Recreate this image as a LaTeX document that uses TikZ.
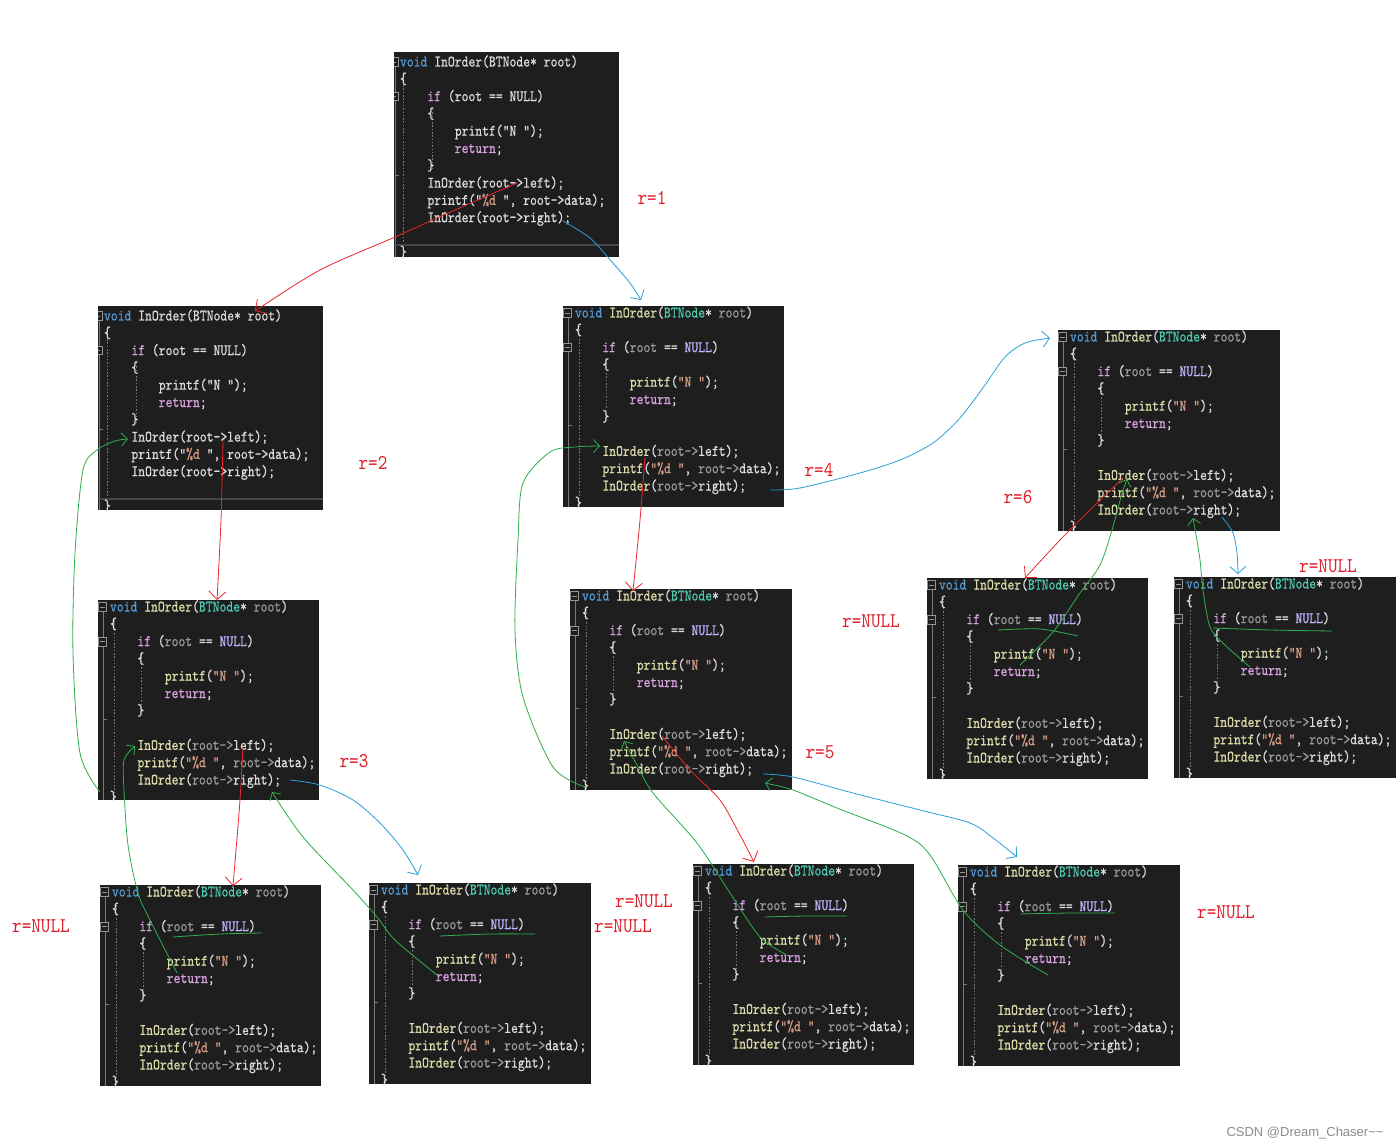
\documentclass[tikz,border=0pt]{standalone}
\usepackage{fontspec}
\usetikzlibrary{arrows.meta}
\newfontfamily\codefont{lmmono10-regular.otf}[FakeStretch=0.815,FakeBold=0.6]
\newfontfamily\labelfont{lmmono10-regular.otf}[FakeStretch=0.87]
\newfontfamily\wmfont{Liberation Sans}
\definecolor{cbg}{HTML}{1E1E1E}
\definecolor{ctx}{HTML}{DCDCDC}
\definecolor{ckw}{HTML}{569CD6}
\definecolor{cfn}{HTML}{DCDCAA}
\definecolor{cty}{HTML}{4EC9B0}
\definecolor{cpa}{HTML}{9A9A9A}
\definecolor{cct}{HTML}{D8A0DF}
\definecolor{cnu}{HTML}{BEB7FF}
\definecolor{cst}{HTML}{D69D85}
\definecolor{cgut}{HTML}{7A7A7A}
\definecolor{cline}{HTML}{464646}
\definecolor{cred}{HTML}{E8262B}
\definecolor{clab}{HTML}{E0202A}
\definecolor{cblue}{HTML}{2A9FDB}
\definecolor{cgreen}{HTML}{2FAF4A}
\newcommand\zkw[1]{\textcolor{ckw}{#1}}
\newcommand\zfn[1]{\textcolor{cfn}{#1}}
\newcommand\zty[1]{\textcolor{cty}{#1}}
\newcommand\zpa[1]{\textcolor{cpa}{#1}}
\newcommand\zct[1]{\textcolor{cct}{#1}}
\newcommand\znu[1]{\textcolor{cnu}{#1}}
\newcommand\zst[1]{\textcolor{cst}{#1}}
\tikzset{
 boxbg/.style={fill=cbg, draw=none, inner sep=0pt, outer sep=0pt},
 code/.style={anchor=base west, inner sep=0pt, outer sep=0pt, text=ctx, font=\codefont\fontsize{16}{18}\selectfont},
 gut/.style={draw=cgut, line width=0.7pt},
 guide/.style={draw=cgut, line width=0.6pt, dash pattern=on 1.5pt off 1.8pt},
 foldbox/.style={draw=cgut!80!white, fill=cbg, line width=0.7pt, minimum size=8.5pt, inner sep=0pt,
   path picture={\draw[cgut!80!white, line width=0.8pt] ([xshift=1.8pt]path picture bounding box.west) -- ([xshift=-1.8pt]path picture bounding box.east);}},
 lab/.style={text=clab, inner sep=0pt, font=\labelfont\fontsize{21}{21}\selectfont},
 redarr/.style={draw=cred, line width=0.8pt, -{Straight Barb[length=8pt,width=17pt]}},
 bluearr/.style={draw=cblue, line width=0.8pt, -{Straight Barb[length=7pt,width=16pt]}},
 greenarr/.style={draw=cgreen, line width=0.8pt, -{Straight Barb[length=6pt,width=13pt]}},
 greenmark/.style={draw=cgreen, line width=0.8pt}
}
% code box, VS style with blank line before the calls
\newcommand{\cboxB}[5]{%
\begin{scope}[shift={(#2,#3)}]
\node[boxbg, minimum width=#4pt, minimum height=#5pt, anchor=north west] (#1) at (0,0) {};
\begin{scope}
\clip (0,0) rectangle (#4,#5);
\draw[gut] (5,12) -- (5,#5);
\draw[gut] (5,119) -- (9,119);
\draw[guide] (16,20) -- (16,#5);
\draw[guide] (43,54) -- (43,113);
\node[foldbox] (#1-fa) at (4.5,7) {};
\node[foldbox] (#1-fb) at (4.5,41.6) {};
\node[code] (#1-0) at (12,11.5) {\zkw{void} \zfn{InOrder}(\zty{BTNode}* \zpa{root})};
\node[code] (#1-1) at (12,28.8) {\{};
\node[code] (#1-2) at (39.4,46.1) {\zct{if} (\zpa{root} == \znu{NULL})};
\node[code] (#1-3) at (39.4,63.4) {\{};
\node[code] (#1-4) at (66.8,80.7) {\zfn{printf}(\zst{"N "});};
\node[code] (#1-5) at (66.8,98) {\zct{return};};
\node[code] (#1-6) at (39.4,115.3) {\}};
\node[code] (#1-8) at (39.4,149.9) {\zfn{InOrder}(\zpa{root->}left);};
\node[code] (#1-9) at (39.4,167.2) {\zfn{printf}(\zst{"\%d "}, \zpa{root->}data);};
\node[code] (#1-10) at (39.4,184.5) {\zfn{InOrder}(\zpa{root->}right);};
\node[code] (#1-11) at (12,201.8) {\}};
\end{scope}
\end{scope}}
% code box, plain style (first two boxes)
\newcommand{\cboxA}[5]{%
\begin{scope}[shift={(#2,#3)}]
\node[boxbg, minimum width=#4pt, minimum height=#5pt, anchor=north west] (#1) at (0,0) {};
\begin{scope}
\clip (0,0) rectangle (#4,#5);
\draw[gut] (1,14) -- (1,#5);
\draw[gut] (1,123) -- (5,123);
\draw[guide] (9,20) -- (9,#5);
\draw[guide] (38,57) -- (38,117);
\draw[draw=cline, line width=1.3pt] (0,193) -- (#4,193);
\node[foldbox] (#1-fa) at (0,10) {};
\node[foldbox] (#1-fb) at (0,44.6) {};
\node[code] (#1-0) at (6,14.5) {\zkw{void} InOrder(BTNode* root)};
\node[code] (#1-1) at (6,31.8) {\{};
\node[code] (#1-2) at (33.4,49.1) {\zct{if} (root == NULL)};
\node[code] (#1-3) at (33.4,66.4) {\{};
\node[code] (#1-4) at (60.8,83.7) {printf("N ");};
\node[code] (#1-5) at (60.8,101) {\zct{return};};
\node[code] (#1-6) at (33.4,118.3) {\}};
\node[code] (#1-7) at (33.4,135.6) {InOrder(root->left);};
\node[code] (#1-8) at (33.4,152.9) {printf("\zst{\%d} ", root->data);};
\node[code] (#1-9) at (33.4,170.2) {InOrder(root->right);};
\node[code] (#1-11) at (6,204.8) {\}};
\end{scope}
\end{scope}}
\begin{document}
\begin{tikzpicture}[x=1pt,y=-1pt]
\fill[white] (0,0) rectangle (1400,1147);
\useasboundingbox (0,0) rectangle (1400,1147);
% boxes
\cboxA{b1}{394}{52}{225}{205}
\cboxA{b2}{98}{306}{225}{204}
\cboxB{b3}{563}{306}{221}{201}
\cboxB{b4}{98}{600}{221}{200}
\cboxB{b5}{570}{589}{222}{201}
\cboxB{b6}{1058}{330}{222}{201}
\cboxB{b7}{927}{578}{221}{201}
\cboxB{b8}{1174}{577}{222}{201}
\cboxB{b9}{100}{885}{221}{201}
\cboxB{b10}{369}{883}{222}{201}
\cboxB{b11}{693}{864}{221}{201}
\cboxB{b12}{958}{865}{222}{201}
% connector end points
\coordinate (r1s) at (517,183); \coordinate (r1e) at (255,311);
\coordinate (r2s) at (223,440); \coordinate (r2e) at (217,600);
\coordinate (r3s) at (243,747); \coordinate (r3e) at (233,886);
\coordinate (r4s) at (645,457); \coordinate (r4e) at (633,591);
\coordinate (r5s) at (662,736); \coordinate (r5e) at (754,862);
\coordinate (r6s) at (1123,478); \coordinate (r6e) at (1025,578);
\coordinate (u1s) at (563,221); \coordinate (u1e) at (641,300);
\coordinate (u2s) at (770,490); \coordinate (u2e) at (1050,338);
\coordinate (u3s) at (290,780); \coordinate (u3e) at (418,875);
\coordinate (u4s) at (763,774); \coordinate (u4e) at (1017,857);
\coordinate (u5s) at (1222,517); \coordinate (u5e) at (1238,574);
\coordinate (g1s) at (100,792); \coordinate (g1e) at (128,439);
\coordinate (g2s) at (177,973); \coordinate (g2e) at (135,746);
\coordinate (g3s) at (437,975); \coordinate (g3e) at (272,792);
\coordinate (g4s) at (585,787); \coordinate (g4e) at (600,446);
\coordinate (g5s) at (787,955); \coordinate (g5e) at (624,741);
\coordinate (g6s) at (1048,975); \coordinate (g6e) at (765,783);
\coordinate (g7s) at (1020,665); \coordinate (g7e) at (1127,479);
\coordinate (g8s) at (1250,667); \coordinate (g8e) at (1193,518);
% red: calls on the left child
\draw[redarr] plot[smooth] coordinates {(r1s) (455,210) (395,237) (320,270) (r1e)};
\draw[redarr] plot[smooth] coordinates {(r2s) (221,520) (r2e)};
\draw[redarr] plot[smooth] coordinates {(r3s) (240,800) (236,850) (r3e)};
\draw[redarr] plot[smooth] coordinates {(r4s) (640,520) (r4e)};
\draw[redarr] plot[smooth] coordinates {(r5s) (690,770) (720,800) (740,835) (r5e)};
\draw[redarr] plot[smooth] coordinates {(r6s) (1090,510) (1060,540) (r6e)};
% blue: calls on the right child
\draw[bluearr] plot[smooth] coordinates {(u1s) (590,238) (612,262) (630,283) (u1e)};
\draw[bluearr] plot[smooth] coordinates {(u2s) (800,488) (860,473) (900,460) (933,443) (960,418) (985,385) (1005,357) (1025,343) (u2e)};
\draw[bluearr] plot[smooth] coordinates {(u3s) (320,785) (353,800) (380,823) (403,850) (u3e)};
\draw[bluearr] plot[smooth] coordinates {(u4s) (793,777) (853,793) (920,810) (970,823) (993,838) (u4e)};
\draw[bluearr] plot[smooth] coordinates {(u5s) (1233,533) (1237,553) (u5e)};
% green: returns
\draw[greenarr] plot[smooth] coordinates {(g1s) (80,753) (73,653) (75,553) (83,470) (97,450) (115,441) (g1e)};
\draw[greenarr] plot[smooth] coordinates {(g2s) (150,920) (138,893) (128,845) (124,790) (124,760) (g2e)};
\draw[greenarr] plot[smooth] coordinates {(g3s) (395,940) (377,917) (353,890) (303,837) (g3e)};
\draw[greenarr] plot[smooth] coordinates {(g4s) (553,767) (523,697) (515,630) (518,540) (523,483) (550,452) (575,447) (g4e)};
\draw[greenarr] plot[smooth] coordinates {(g5s) (760,937) (730,893) (697,843) (653,793) (637,765) (g5e)};
\draw[greenarr] plot[smooth] coordinates {(g6s) (1000,945) (963,910) (930,855) (905,835) (837,808) (793,790) (g6e)};
\draw[greenarr] plot[smooth] coordinates {(g7s) (1053,632) (1080,593) (1100,565) (1112,530) (1121,497) (g7e)};
\draw[greenarr] plot[smooth] coordinates {(g8s) (1225,645) (1210,627) (1203,590) (1200,560) (1196,535) (g8e)};
% green underlines under the NULL tests
\draw[greenmark] plot[smooth] coordinates {(998,630) (1040,629) (1078,636)};
\draw[greenmark] plot[smooth] coordinates {(1213,628) (1270,630) (1332,631)};
\draw[greenmark] plot[smooth] coordinates {(173,937) (220,934) (262,933)};
\draw[greenmark] plot[smooth] coordinates {(440,936) (490,934) (535,934)};
\draw[greenmark] plot[smooth] coordinates {(765,917) (805,916) (847,916)};
\draw[greenmark] plot[smooth] coordinates {(1020,914) (1070,913) (1115,913)};
% labels
\node[lab] (l1) at (652,198) {r=1};
\node[lab] (l2) at (373,463) {r=2};
\node[lab] (l3) at (354,761) {r=3};
\node[lab] (l4) at (819,470) {r=4};
\node[lab] (l5) at (820,752) {r=5};
\node[lab] (l6) at (1018,497) {r=6};
\node[lab] (n1) at (871,621) {r=NULL};
\node[lab] (n2) at (1328,566) {r=NULL};
\node[lab] (n3) at (41,926) {r=NULL};
\node[lab] (n4) at (644,901) {r=NULL};
\node[lab] (n5) at (623,926) {r=NULL};
\node[lab] (n6) at (1226,912) {r=NULL};
\node[inner sep=0pt, text=black!45, font=\wmfont\fontsize{13}{13}\selectfont] (wm) at (1305,1133) {CSDN @Dream\_Chaser\textasciitilde\textasciitilde};
\end{tikzpicture}
\end{document}
